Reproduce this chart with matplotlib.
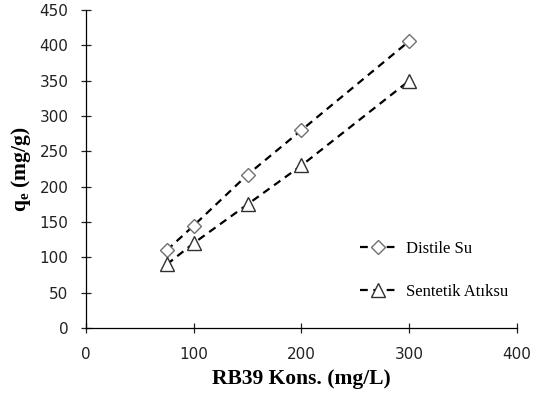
import matplotlib
matplotlib.use('Agg')
import matplotlib.pyplot as plt

# data
konsantrasyon = [75, 100, 150, 200, 300]
distile_su = [110, 145, 217, 280, 406]
sentetik_atiksu = [90, 120, 175, 230, 350]

x_ticks = [0, 100, 200, 300, 400]
y_ticks = [0, 50, 100, 150, 200, 250, 300, 350, 400, 450]

fig = plt.figure(figsize=(5.34, 3.94), dpi=100)
ax = fig.add_axes([0.161, 0.1675, 0.807, 0.807])

ax.plot(konsantrasyon, distile_su, color='black', linestyle=(0, (3.5, 2.5)), linewidth=1.6,
        marker='D', markersize=7, markerfacecolor='white', markeredgecolor='#707070',
        markeredgewidth=1.0, label='Distile Su')
ax.plot(konsantrasyon, sentetik_atiksu, color='black', linestyle=(0, (3.5, 2.5)), linewidth=1.6,
        marker='^', markersize=10, markerfacecolor='white', markeredgecolor='#303030',
        markeredgewidth=1.0, label='Sentetik Atıksu')

ax.set_xlim(0, 400)
ax.set_ylim(0, 450)
ax.set_xticks(x_ticks)
ax.set_yticks(y_ticks)

for side in ['top', 'right']:
    ax.spines[side].set_visible(False)
for side in ['left', 'bottom']:
    ax.spines[side].set_color('black')
    ax.spines[side].set_linewidth(0.9)

ax.tick_params(direction='inout', length=7, width=0.9, labelsize=11, colors='#222222')
ax.tick_params(axis='x', pad=10)
ax.tick_params(axis='y', pad=9)
for lbl in ax.get_xticklabels() + ax.get_yticklabels():
    lbl.set_family('DejaVu Sans')

ax.set_xlabel('RB39 Kons. (mg/L)', fontsize=15.5, fontweight='bold', family='Liberation Serif', labelpad=5)
ax.set_ylabel(r'q$_\mathregular{e}$ (mg/g)', fontsize=15.5, fontweight='bold', family='Liberation Serif', labelpad=5)

leg = ax.legend(loc='upper left', bbox_to_anchor=(0.6, 0.32), frameon=False,
                prop={'family': 'Liberation Serif', 'size': 12}, labelspacing=1.6,
                handlelength=2.2, handletextpad=0.6)

fig.savefig('out.png', dpi=100)
print("Image generation complete")
